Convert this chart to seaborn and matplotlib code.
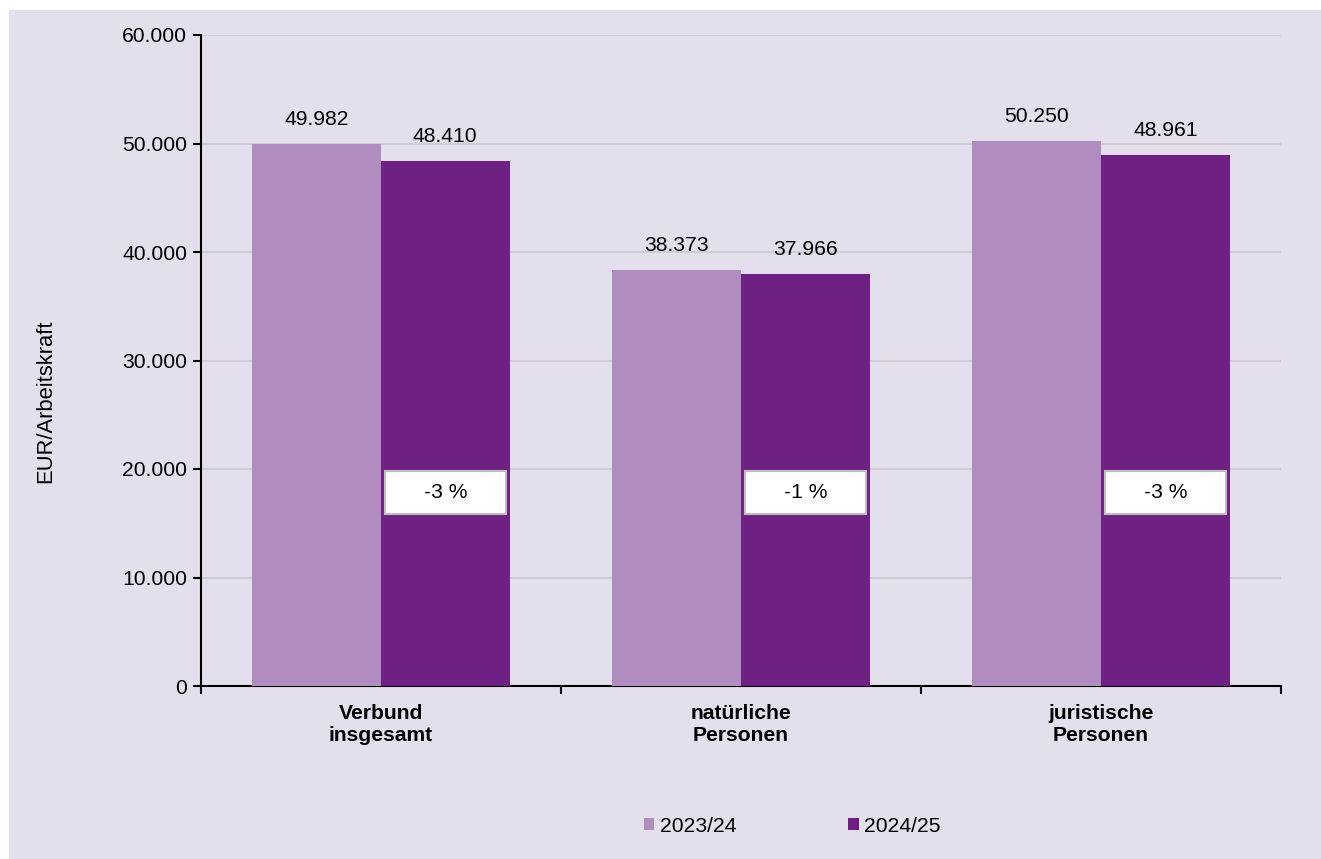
import pandas as pd
import matplotlib.pyplot as plt
import seaborn as sns
from matplotlib.patches import Rectangle
from matplotlib.ticker import FuncFormatter

# Daten
kategorien = ["Verbund\ninsgesamt", "natürliche\nPersonen", "juristische\nPersonen"]
jahre = ["2023/24", "2024/25"]
werte_2023 = [49982, 38373, 50250]
werte_2024 = [48410, 37966, 48961]
veraenderung = ["-3 %", "-1 %", "-3 %"]

farben = ["#B18CC0", "#6F2083"]
hintergrund = "#E4DFEC"


def de_format(v, pos=None):
    return f"{v:,.0f}".replace(",", ".")


df = pd.DataFrame({
    "kategorie": kategorien * 2,
    "jahr": [jahre[0]] * 3 + [jahre[1]] * 3,
    "wert": werte_2023 + werte_2024,
})

sns.set_theme(style="white")
plt.rcParams["font.family"] = ["Liberation Sans", "DejaVu Sans"]
plt.rcParams["text.color"] = "black"
plt.rcParams["axes.labelcolor"] = "black"
plt.rcParams["xtick.color"] = "black"
plt.rcParams["ytick.color"] = "black"

fs = 15.2

fig = plt.figure(figsize=(13.21, 8.59), dpi=100)
fig.patch.set_facecolor("white")
# lavendelfarbener Hintergrund mit schmalem weissem Rand oben/links
fig.patches.append(Rectangle((9 / 1321, 0), 1, 1 - 10 / 859, transform=fig.transFigure,
                             facecolor=hintergrund, edgecolor="none", zorder=-10))

ax = fig.add_axes([201 / 1321, 1 - 686 / 859, 1080 / 1321, 651 / 859])
ax.set_facecolor(hintergrund)

bar_breite = 0.714
sns.barplot(data=df, x="kategorie", y="wert", hue="jahr", palette=farben,
            width=bar_breite, saturation=1, linewidth=0, ax=ax, zorder=3)

ax.set_ylim(0, 60000)
ax.set_xlim(-0.5, 2.5)
ax.set_yticks(range(0, 60001, 10000))
ax.yaxis.set_major_formatter(FuncFormatter(de_format))
ax.yaxis.grid(True, color="#D0CCD4", linewidth=1.5, zorder=0)
ax.set_axisbelow(True)

for s in ["top", "right"]:
    ax.spines[s].set_visible(False)
for s in ["left", "bottom"]:
    ax.spines[s].set_color("black")
    ax.spines[s].set_linewidth(1.5)

ax.tick_params(axis="y", which="major", direction="out", length=6, width=1.5,
               labelsize=fs, pad=4, left=True)
ax.tick_params(axis="x", which="major", length=0, labelsize=fs, pad=13)
ax.set_xticks([-0.5, 0.5, 1.5, 2.5], minor=True)
ax.tick_params(axis="x", which="minor", direction="out", length=6, width=1.5,
               bottom=True)
for lbl in ax.get_xticklabels():
    lbl.set_fontweight("bold")

ax.set_xlabel("")
ax.set_ylabel("EUR/Arbeitskraft", fontsize=15.8)
ax.yaxis.set_label_coords(-0.134, 0.437)

# Wertbeschriftungen
for cont in ax.containers:
    ax.bar_label(cont, labels=[de_format(b.get_height()) for b in cont],
                 padding=10.5, fontsize=fs)

# Veraenderung in Prozent
box_w = 0.336
box_h = 3960
box_y = 17800
for i, txt in enumerate(veraenderung):
    xc = i + bar_breite / 4
    ax.add_patch(Rectangle((xc - box_w / 2, box_y - box_h / 2), box_w, box_h,
                           facecolor="white", edgecolor="#BFBFBF", linewidth=1.5, zorder=5))
    ax.text(xc, box_y, txt, ha="center", va="center", fontsize=fs, zorder=6)

sns.move_legend(ax, "center", bbox_to_anchor=(792 / 1321, 1 - 826 / 859),
                bbox_transform=fig.transFigure, ncol=2, frameon=False, title=None,
                fontsize=fs, handlelength=0.5, handleheight=0.5,
                handletextpad=0.25, columnspacing=5.3)

fig.savefig("out.png", dpi=100, facecolor=fig.get_facecolor())
